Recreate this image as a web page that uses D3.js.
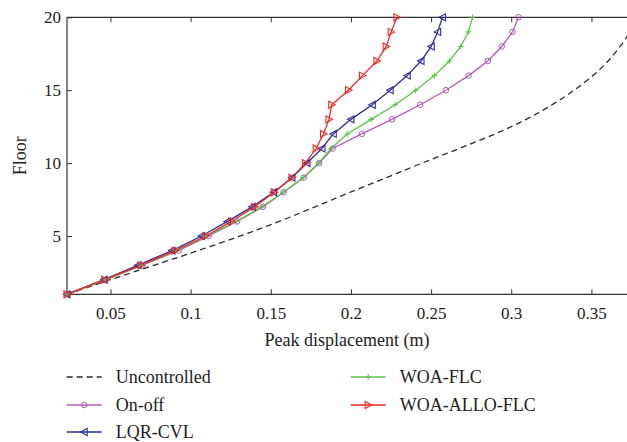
<!DOCTYPE html>
<html>
<head>
<meta charset="utf-8">
<script src="https://cdn.jsdelivr.net/npm/d3@7"></script>
<style>
  body { margin: 0; background: #fff; }
  svg text { font-family: "Liberation Serif", "Times New Roman", serif; fill: #222; }
</style>
</head>
<body>
<svg id="chart" width="627" height="442"></svg>
<script>
// floors 1..20
var floors = d3.range(1, 21);

var uncontrolled = [0.0231, 0.0499, 0.0774, 0.1048, 0.1310, 0.1553, 0.1777, 0.1995, 0.2220, 0.2444,
                    0.2675, 0.2899, 0.3093, 0.3255, 0.3392, 0.3510, 0.3604, 0.3679, 0.3741, 0.3791];
var onOff = [0.0229, 0.0472, 0.0700, 0.0925, 0.1112, 0.1290, 0.1451, 0.1580, 0.1705, 0.1802,
             0.1886, 0.2068, 0.2256, 0.2432, 0.2592, 0.2734, 0.2854, 0.2941, 0.3008, 0.3045];
var lqrCvl = [0.0229, 0.0460, 0.0672, 0.0884, 0.1069, 0.1230, 0.1384, 0.1518, 0.1632, 0.1726,
              0.1819, 0.1890, 0.2000, 0.2133, 0.2245, 0.2351, 0.2437, 0.2501, 0.2541, 0.2571];
var woaFlc = [0.0229, 0.0470, 0.0695, 0.0915, 0.1100, 0.1285, 0.1445, 0.1578, 0.1702, 0.1798,
              0.1876, 0.1977, 0.2126, 0.2276, 0.2404, 0.2520, 0.2614, 0.2685, 0.2733, 0.2758];
var woaAlloFlc = [0.0229, 0.0464, 0.0690, 0.0903, 0.1094, 0.1255, 0.1400, 0.1522, 0.1632, 0.1716,
                  0.1783, 0.1829, 0.1863, 0.1880, 0.1985, 0.2072, 0.2162, 0.2220, 0.2251, 0.2287];

var xTicks = [0.05, 0.1, 0.15, 0.2, 0.25, 0.3, 0.35];
var yTicks = [5, 10, 15, 20];

var series = [
  { name: "Uncontrolled", values: uncontrolled, color: "#2a2a2a", marker: "none", dash: "6,4" },
  { name: "On-off", values: onOff, color: "#b45cb4", marker: "circle" },
  { name: "LQR-CVL", values: lqrCvl, color: "#2e2e96", marker: "left" },
  { name: "WOA-FLC", values: woaFlc, color: "#5ec24c", marker: "plus" },
  { name: "WOA-ALLO-FLC", values: woaAlloFlc, color: "#f02a22", marker: "right" }
];

var svg = d3.select("#chart"),
  margin = { top: 17.3, left: 67, right: 0, bottom: 147.7 },
  width = +svg.attr("width"),
  height = +svg.attr("height");

var x = d3.scaleLinear().domain([0.0229, 0.3722]).range([margin.left, width - margin.right]);
var y = d3.scaleLinear().domain([1, 20]).range([height - margin.bottom, margin.top]);

svg.append("defs").append("clipPath").attr("id", "plot-clip")
  .append("rect")
  .attr("x", x.range()[0]).attr("y", y.range()[1])
  .attr("width", x.range()[1] - x.range()[0])
  .attr("height", y.range()[0] - y.range()[1]);

// axes
var axisColor = "#333";
var xAxis = svg.append("g")
  .attr("transform", "translate(0," + y(1) + ")")
  .call(d3.axisBottom(x).tickValues(xTicks).tickSize(-5).tickPadding(10).tickFormat(d3.format("")));
var xAxisTop = svg.append("g")
  .attr("transform", "translate(0," + y(20) + ")")
  .call(d3.axisTop(x).tickValues(xTicks).tickSize(-5).tickFormat(""));
var yAxis = svg.append("g")
  .attr("transform", "translate(" + x.range()[0] + ",0)")
  .call(d3.axisLeft(y).tickValues(yTicks).tickSize(-5).tickPadding(6));

[xAxis, xAxisTop, yAxis].forEach(function (g) {
  g.select(".domain").attr("stroke", axisColor).attr("stroke-width", 1.2);
  g.selectAll(".tick line").attr("stroke", axisColor);
  g.selectAll(".tick text").style("font-size", "17px").style("font-family", "Liberation Serif, serif").attr("fill", "#222");
});
xAxis.selectAll(".tick text").attr("dy", "0.85em");
xAxisTop.select(".domain").attr("d", "M" + x.range()[0] + ",0H" + x.range()[1]);
xAxis.select(".domain").attr("d", "M" + x.range()[0] + ",0H" + x.range()[1]);
yAxis.select(".domain").attr("d", "M0," + y.range()[0] + "V" + y.range()[1]);

// labels
svg.append("text")
  .attr("x", (x.range()[0] + x.range()[1]) / 2)
  .attr("y", 346)
  .attr("text-anchor", "middle")
  .style("font-size", "18px")
  .text("Peak displacement (m)");

svg.append("text")
  .attr("transform", "translate(26," + ((y.range()[0] + y.range()[1]) / 2) + ") rotate(-90)")
  .attr("text-anchor", "middle")
  .style("font-size", "18px")
  .text("Floor");

function drawMarker(g, type, color) {
  if (type === "circle") {
    g.append("circle").attr("r", 2.8).attr("fill", "none").attr("stroke", color).attr("stroke-width", 1);
  } else if (type === "plus") {
    g.append("path").attr("d", "M-2.8,0H2.8M0,-2.8V2.8").attr("stroke", color).attr("stroke-width", 1.1);
  } else if (type === "left") {
    g.append("path").attr("d", "M-3.5,0L3,-3.5L3,3.5Z").attr("fill", "none").attr("stroke", color).attr("stroke-width", 1.1);
  } else if (type === "right") {
    g.append("path").attr("d", "M3.5,0L-3,-3.5L-3,3.5Z").attr("fill", "none").attr("stroke", color).attr("stroke-width", 1.1);
  }
}

var line = d3.line()
  .x(function (d, i) { return x(d); })
  .y(function (d, i) { return y(floors[i]); });

var plot = svg.append("g").attr("clip-path", "url(#plot-clip)");

series.forEach(function (s) {
  plot.append("path")
    .datum(s.values)
    .attr("fill", "none")
    .attr("stroke", s.color)
    .attr("stroke-width", 1.3)
    .attr("stroke-dasharray", s.dash || null)
    .attr("d", s.marker === "none" ? line.curve(d3.curveMonotoneY)(s.values) : line.curve(d3.curveLinear)(s.values));
});

series.forEach(function (s) {
  if (s.marker === "none") return;
  s.values.forEach(function (v, i) {
    var g = svg.append("g").attr("transform", "translate(" + x(v) + "," + y(floors[i]) + ")");
    drawMarker(g, s.marker, s.color);
  });
});

// legend
var legendPos = [
  [66.7, 377], [66.7, 405], [66.7, 432],
  [350.7, 377], [350.7, 405]
];
series.forEach(function (s, j) {
  var p = legendPos[j];
  var g = svg.append("g").attr("transform", "translate(" + p[0] + "," + p[1] + ")");
  g.append("line").attr("x1", 0).attr("x2", 35).attr("y1", 0).attr("y2", 0)
    .attr("stroke", s.color).attr("stroke-width", 1.3)
    .attr("stroke-dasharray", s.dash || null);
  var m = g.append("g").attr("transform", "translate(17.5,0)");
  drawMarker(m, s.marker, s.color);
  g.append("text").attr("x", 49).attr("y", 0).attr("dy", "0.35em")
    .style("font-size", "18px").text(s.name);
});
</script>
</body>
</html>
